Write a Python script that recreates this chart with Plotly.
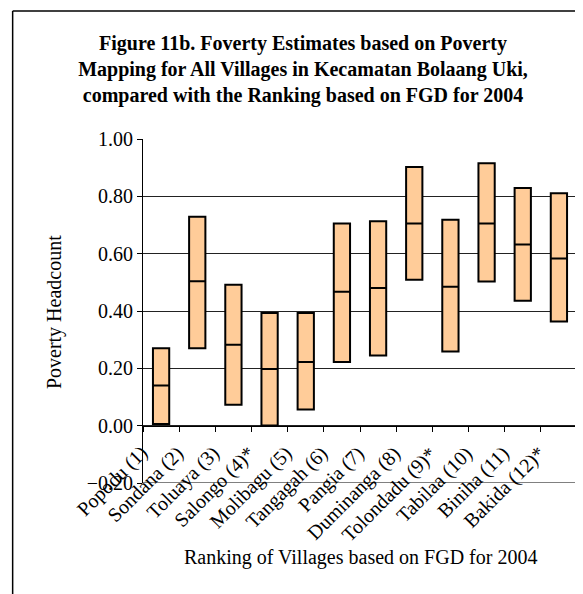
import plotly.graph_objects as go

villages = ["Popodu (1)", "Sondana (2)", "Toluaya (3)", "Salongo (4)*", "Molibagu (5)",
            "Tangagah (6)", "Pangia (7)", "Duminanga (8)", "Tolondadu (9)*", "Tabilaa (10)",
            "Biniha (11)", "Bakida (12)*"]
lower = [0.006, 0.270, 0.073, 0.001, 0.056, 0.222, 0.245, 0.509, 0.259, 0.503, 0.436, 0.363]
point = [0.140, 0.504, 0.282, 0.198, 0.222, 0.467, 0.480, 0.705, 0.485, 0.705, 0.632, 0.583]
upper = [0.270, 0.729, 0.492, 0.393, 0.393, 0.705, 0.713, 0.902, 0.718, 0.915, 0.829, 0.811]
y_ticks = [-0.2, 0.0, 0.2, 0.4, 0.6, 0.8, 1.0]

# page body has an 8px margin; the figure is sized so it fills the rest of the window
OFF = 8
W, H = 583 - OFF, 594 - OFF
L, T = 143 - OFF, 139 - OFF
R = W - (577.5 - OFF)
B = H - (483 - OFF)
pw, ph = W - L - R, H - T - B

def px_x(px):  # reference screen pixel -> paper fraction
    return (px - OFF - L) / pw

def px_y(py):
    return 1 - (py - OFF - T) / ph

FONT = "Liberation Serif, Times New Roman, serif"

fig = go.Figure()
fig.add_trace(go.Box(
    x=villages, q1=lower, median=point, q3=upper,
    lowerfence=lower, upperfence=upper,
    fillcolor="#FFCC99", line=dict(color="black", width=2),
    whiskerwidth=0, width=0.45, boxpoints=False, showlegend=False,
))

annotations = [
    dict(text="Poverty Headcount", textangle=-90, xref="paper", yref="paper",
         x=px_x(54), y=px_y(312), xanchor="center", yanchor="middle",
         showarrow=False, font=dict(family=FONT, size=20, color="black")),
    dict(text="Ranking of Villages based on FGD for 2004", xref="paper", yref="paper",
         x=px_x(361), y=px_y(557), xanchor="center", yanchor="middle",
         showarrow=False, font=dict(family=FONT, size=20, color="black")),
]
for v in villages:
    annotations.append(dict(
        text=v, x=v, y=0, xref="x", yref="y", textangle=-45,
        xanchor="right", yanchor="top", xshift=-8, yshift=-15,
        showarrow=False, borderpad=0,
        font=dict(family=FONT, size=20, color="black"),
    ))

fig.update_layout(
    width=W, height=H,
    margin=dict(l=L, r=R, t=T, b=B, pad=0),
    paper_bgcolor="white", plot_bgcolor="white",
    font=dict(family=FONT, size=20, color="black"),
    xaxis=dict(
        type="category", anchor="free", position=1/6,
        showline=True, linecolor="black", linewidth=1,
        ticks="outside", tickson="boundaries", ticklen=5, tickcolor="black",
        showticklabels=False, showgrid=False, zeroline=False,
        range=[-0.5, 11.5],
    ),
    yaxis=dict(
        range=[-0.2, 1.0], tickvals=y_ticks, tickformat=".2f",
        showline=True, linecolor="black", linewidth=1,
        ticks="outside", ticklen=5, tickcolor="black",
        showgrid=True, gridcolor="#222", gridwidth=1, zeroline=False,
        tickfont=dict(family=FONT, size=20, color="black"),
    ),
    title=dict(
        text="Figure 11b. Foverty Estimates based on Poverty<br>Mapping for All Villages in Kecamatan Bolaang Uki,<br>compared with the Ranking based on FGD for 2004",
        font=dict(family=FONT, size=20, color="black", weight="bold"),
        x=(303 - OFF) / W, xanchor="center", xref="container",
        y=1 - 42 / H, yanchor="top", yref="container",
    ),
    annotations=annotations,
    shapes=[
        dict(type="line", xref="paper", yref="y", x0=0, x1=1, y0=-0.2, y1=-0.2,
             line=dict(color="black", width=1)),
        dict(type="line", xref="paper", yref="paper", x0=px_x(12.5), x1=px_x(600),
             y0=px_y(11), y1=px_y(11), line=dict(color="black", width=1.5)),
        dict(type="line", xref="paper", yref="paper", x0=px_x(12.5), x1=px_x(12.5),
             y0=px_y(11), y1=px_y(610), line=dict(color="black", width=1.5)),
    ],
)

fig.write_html("out.html")
